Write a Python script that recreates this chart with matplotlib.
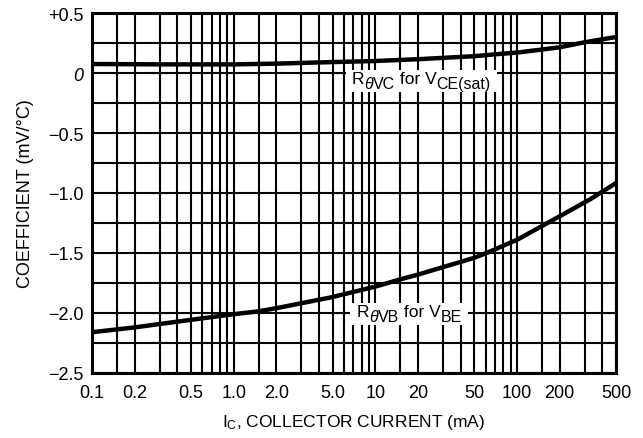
import numpy as np
import matplotlib
matplotlib.use("Agg")
import matplotlib.pyplot as plt
from matplotlib.ticker import FixedLocator, NullFormatter, FixedFormatter
from matplotlib.transforms import offset_copy
from matplotlib.patches import Rectangle

plt.rcParams['font.family'] = ['Liberation Sans', 'DejaVu Sans']
plt.rcParams['mathtext.fontset'] = 'custom'
plt.rcParams['mathtext.rm'] = 'Liberation Sans'
plt.rcParams['mathtext.it'] = 'Liberation Sans:italic'

# Data
ic_vc = [0.1, 0.3, 1.0, 2.0, 4.0, 10, 20, 50, 74, 100, 200, 300, 500]
coef_vc = [0.075, 0.072, 0.072, 0.078, 0.088, 0.10, 0.115, 0.14, 0.158, 0.17, 0.214, 0.256, 0.30]

ic_vb = [0.1, 0.2, 0.45, 1.0, 1.5, 2.0, 4.9, 10, 15.3, 20, 50, 62.7, 100, 194, 331, 500]
coef_vb = [-2.16, -2.12, -2.064, -2.01, -1.986, -1.96, -1.869, -1.78, -1.717, -1.68, -1.54,
           -1.494, -1.39, -1.203, -1.05, -0.917]

x_ticks = [0.1, 0.2, 0.5, 1.0, 2.0, 5.0, 10, 20, 50, 100, 200, 500]
x_tick_labels = ["0.1", "0.2", "0.5", "1.0", "2.0", "5.0", "10", "20", "50", "100", "200", "500"]
y_ticks = [0.5, 0.0, -0.5, -1.0, -1.5, -2.0, -2.5]
y_tick_labels = ["+0.5", "0", "\u22120.5", "\u22121.0", "\u22121.5", "\u22122.0", "\u22122.5"]

# curve labels: (text, is_subscript, italic)
label_vc = [("R", False, False), ("\u03b8", True, True), ("VC", True, False),
            (" for V", False, False), ("CE(sat)", True, False)]
label_vb = [("R", False, False), ("\u03b8", True, True), ("VB", True, False),
            (" for V", False, False), ("BE", True, False)]

fig = plt.figure(figsize=(6.43, 4.39), dpi=100)
fig.patch.set_facecolor('white')
ax = fig.add_axes([92/643, 1-374/439, (616-92)/643, (374-14)/439])

ax.set_xscale('log')
ax.set_xlim(0.1, 500)
ax.set_ylim(-2.5, 0.5)

# grid positions: 1, 1.5, 2..9 per decade
grid_x = []
for d in [0.1, 1, 10, 100]:
    for m in [1, 1.5, 2, 3, 4, 5, 6, 7, 8, 9]:
        v = d * m
        if v <= 500.0001:
            grid_x.append(v)
ax.xaxis.set_major_locator(FixedLocator(x_ticks))
ax.xaxis.set_major_formatter(FixedFormatter(x_tick_labels))
ax.xaxis.set_minor_locator(FixedLocator(grid_x))
ax.xaxis.set_minor_formatter(NullFormatter())

ax.yaxis.set_major_locator(FixedLocator(y_ticks))
ax.yaxis.set_major_formatter(FixedFormatter(y_tick_labels))
ax.yaxis.set_minor_locator(FixedLocator(list(np.arange(-2.5, 0.51, 0.25))))

ax.grid(True, which='both', color='black', linewidth=1.5)
ax.set_axisbelow(True)
ax.tick_params(which='both', length=0)
ax.tick_params(axis='x', pad=8, labelsize=13)
ax.tick_params(axis='y', pad=6, labelsize=13)
for s in ax.spines.values():
    s.set_linewidth(2.2)
    s.set_color('black')

for lbl in ax.get_yticklabels():
    if lbl.get_text() == "0":
        lbl.set_style('italic')

ax.plot(ic_vc, coef_vc, color='black', linewidth=3.2, zorder=2)
ax.plot(ic_vb, coef_vb, color='black', linewidth=3.2, zorder=2)

ax.set_xlabel(r'I$_\mathrm{C}$, COLLECTOR CURRENT (mA)', fontsize=12.5, labelpad=8)
ax.set_ylabel('COEFFICIENT (mV/\u00b0C)', fontsize=13, labelpad=10)

renderer = fig.canvas.get_renderer()


def rich_label(xc, yb, pieces, main_size=12.5, sub_size=11.5, sub_drop=5):
    """Place label pieces centred at data x=xc with main baseline at data y=yb."""
    texts = []
    widths = []
    for s, is_sub, ital in pieces:
        t = ax.text(xc, yb, s, fontsize=sub_size if is_sub else main_size,
                    style='italic' if ital else 'normal', ha='left', va='baseline', zorder=5)
        w = t.get_window_extent(renderer).width
        texts.append((t, is_sub))
        widths.append(w)
    total = sum(widths)
    x0 = -total / 2.0
    boxes = []
    for (t, is_sub), w in zip(texts, widths):
        t.set_transform(offset_copy(ax.transData, fig=fig, x=x0, y=-sub_drop if is_sub else 0,
                                    units='dots'))
        x0 += w
        boxes.append(t.get_window_extent(renderer))
    xmin = min(b.x0 for b in boxes) - 6
    xmax = max(b.x1 for b in boxes) + 6
    ymin = min(b.y0 for b in boxes) - 1
    ymax = max(b.y1 for b in boxes) + 1
    inv = ax.transAxes.inverted()
    (ax0, ay0), (ax1, ay1) = inv.transform([(xmin, ymin), (xmax, ymax)])
    ax.add_patch(Rectangle((ax0, ay0), ax1 - ax0, ay1 - ay0, transform=ax.transAxes,
                           facecolor='white', edgecolor='none', zorder=3))


rich_label(21.1, -0.083, label_vc)
rich_label(17.3, -2.025, label_vb)

fig.savefig('out.png', dpi=100, facecolor='white')
